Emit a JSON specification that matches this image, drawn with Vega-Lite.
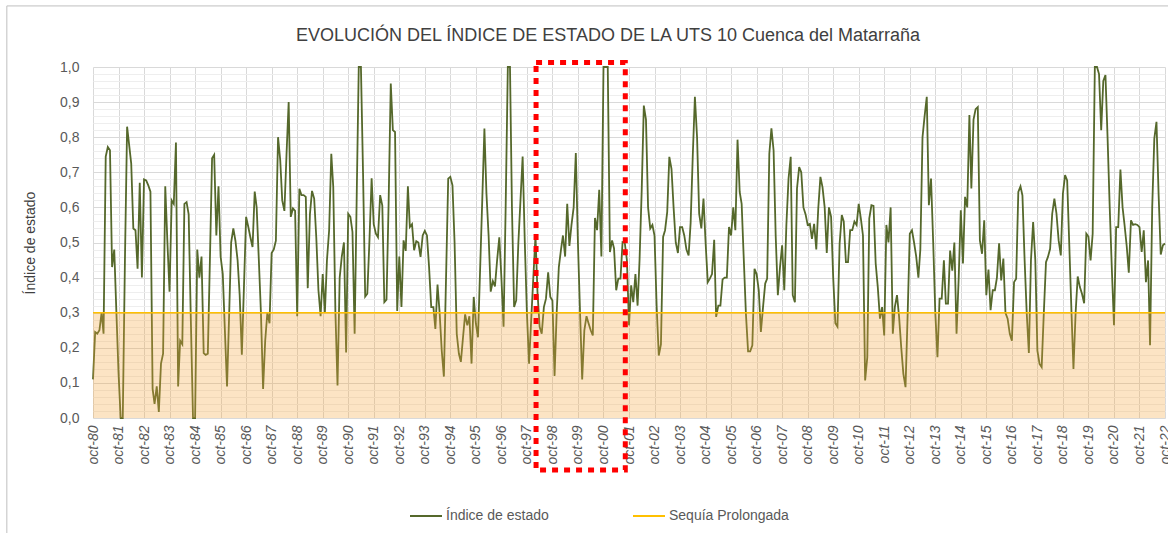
{
  "$schema": "https://vega.github.io/schema/vega-lite/v6.json",
  "width": 1072,
  "height": 351,
  "autosize": {"type": "none"},
  "padding": {"left": 93, "top": 67, "right": 3, "bottom": 115},
  "background": "#FFFFFF",
  "config": {"view": {"stroke": null}, "font": "Liberation Sans"},
  "title": {"text": "EVOLUCIÓN DEL ÍNDICE DE ESTADO DE LA UTS 10 Cuenca del Matarraña", "font": "Liberation Sans", "fontSize": 18, "fontWeight": "normal", "color": "#404040", "anchor": "middle", "dx": -21, "baseline": "alphabetic", "offset": 0, "dy": 54},
  "data": {"values": [
{"d":"1980-10","v":0.11},{"d":"1980-11","v":0.245},{"d":"1980-12","v":0.24},{"d":"1981-01","v":0.25},{"d":"1981-02","v":0.30},{"d":"1981-03","v":0.24},{"d":"1981-04","v":0.745},{"d":"1981-05","v":0.772},{"d":"1981-06","v":0.763},{"d":"1981-07","v":0.43},{"d":"1981-08","v":0.48},{"d":"1981-09","v":0.30},
{"d":"1981-10","v":0.13},{"d":"1981-11","v":0.0},{"d":"1981-12","v":0.0},{"d":"1982-01","v":0.45},{"d":"1982-02","v":0.83},{"d":"1982-03","v":0.78},{"d":"1982-04","v":0.725},{"d":"1982-05","v":0.54},{"d":"1982-06","v":0.535},{"d":"1982-07","v":0.425},{"d":"1982-08","v":0.67},{"d":"1982-09","v":0.40},
{"d":"1982-10","v":0.68},{"d":"1982-11","v":0.677},{"d":"1982-12","v":0.663},{"d":"1983-01","v":0.645},{"d":"1983-02","v":0.083},{"d":"1983-03","v":0.04},{"d":"1983-04","v":0.09},{"d":"1983-05","v":0.017},{"d":"1983-06","v":0.155},{"d":"1983-07","v":0.183},{"d":"1983-08","v":0.66},{"d":"1983-09","v":0.50},
{"d":"1983-10","v":0.36},{"d":"1983-11","v":0.62},{"d":"1983-12","v":0.61},{"d":"1984-01","v":0.785},{"d":"1984-02","v":0.09},{"d":"1984-03","v":0.22},{"d":"1984-04","v":0.21},{"d":"1984-05","v":0.61},{"d":"1984-06","v":0.615},{"d":"1984-07","v":0.58},{"d":"1984-08","v":0.28},{"d":"1984-09","v":0.0},
{"d":"1984-10","v":0.0},{"d":"1984-11","v":0.48},{"d":"1984-12","v":0.40},{"d":"1985-01","v":0.46},{"d":"1985-02","v":0.185},{"d":"1985-03","v":0.18},{"d":"1985-04","v":0.183},{"d":"1985-05","v":0.45},{"d":"1985-06","v":0.74},{"d":"1985-07","v":0.75},{"d":"1985-08","v":0.52},{"d":"1985-09","v":0.66},
{"d":"1985-10","v":0.46},{"d":"1985-11","v":0.41},{"d":"1985-12","v":0.25},{"d":"1986-01","v":0.09},{"d":"1986-02","v":0.30},{"d":"1986-03","v":0.50},{"d":"1986-04","v":0.54},{"d":"1986-05","v":0.505},{"d":"1986-06","v":0.45},{"d":"1986-07","v":0.35},{"d":"1986-08","v":0.18},{"d":"1986-09","v":0.38},
{"d":"1986-10","v":0.573},{"d":"1986-11","v":0.545},{"d":"1986-12","v":0.515},{"d":"1987-01","v":0.487},{"d":"1987-02","v":0.645},{"d":"1987-03","v":0.60},{"d":"1987-04","v":0.45},{"d":"1987-05","v":0.30},{"d":"1987-06","v":0.083},{"d":"1987-07","v":0.22},{"d":"1987-08","v":0.30},{"d":"1987-09","v":0.27},
{"d":"1987-10","v":0.47},{"d":"1987-11","v":0.48},{"d":"1987-12","v":0.505},{"d":"1988-01","v":0.80},{"d":"1988-02","v":0.735},{"d":"1988-03","v":0.62},{"d":"1988-04","v":0.59},{"d":"1988-05","v":0.75},{"d":"1988-06","v":0.90},{"d":"1988-07","v":0.573},{"d":"1988-08","v":0.597},{"d":"1988-09","v":0.59},
{"d":"1988-10","v":0.29},{"d":"1988-11","v":0.653},{"d":"1988-12","v":0.635},{"d":"1989-01","v":0.635},{"d":"1989-02","v":0.63},{"d":"1989-03","v":0.37},{"d":"1989-04","v":0.58},{"d":"1989-05","v":0.647},{"d":"1989-06","v":0.625},{"d":"1989-07","v":0.515},{"d":"1989-08","v":0.364},{"d":"1989-09","v":0.29},
{"d":"1989-10","v":0.41},{"d":"1989-11","v":0.30},{"d":"1989-12","v":0.45},{"d":"1990-01","v":0.535},{"d":"1990-02","v":0.753},{"d":"1990-03","v":0.658},{"d":"1990-04","v":0.30},{"d":"1990-05","v":0.093},{"d":"1990-06","v":0.40},{"d":"1990-07","v":0.46},{"d":"1990-08","v":0.50},{"d":"1990-09","v":0.187},
{"d":"1990-10","v":0.582},{"d":"1990-11","v":0.573},{"d":"1990-12","v":0.53},{"d":"1991-01","v":0.24},{"d":"1991-02","v":0.65},{"d":"1991-03","v":1.0},{"d":"1991-04","v":1.0},{"d":"1991-05","v":0.70},{"d":"1991-06","v":0.346},{"d":"1991-07","v":0.354},{"d":"1991-08","v":0.506},{"d":"1991-09","v":0.683},
{"d":"1991-10","v":0.552},{"d":"1991-11","v":0.525},{"d":"1991-12","v":0.515},{"d":"1992-01","v":0.635},{"d":"1992-02","v":0.605},{"d":"1992-03","v":0.33},{"d":"1992-04","v":0.337},{"d":"1992-05","v":0.61},{"d":"1992-06","v":0.953},{"d":"1992-07","v":0.82},{"d":"1992-08","v":0.815},{"d":"1992-09","v":0.305},
{"d":"1992-10","v":0.46},{"d":"1992-11","v":0.316},{"d":"1992-12","v":0.506},{"d":"1993-01","v":0.476},{"d":"1993-02","v":0.66},{"d":"1993-03","v":0.544},{"d":"1993-04","v":0.552},{"d":"1993-05","v":0.478},{"d":"1993-06","v":0.504},{"d":"1993-07","v":0.50},{"d":"1993-08","v":0.459},{"d":"1993-09","v":0.52},
{"d":"1993-10","v":0.533},{"d":"1993-11","v":0.52},{"d":"1993-12","v":0.43},{"d":"1994-01","v":0.316},{"d":"1994-02","v":0.316},{"d":"1994-03","v":0.254},{"d":"1994-04","v":0.38},{"d":"1994-05","v":0.30},{"d":"1994-06","v":0.19},{"d":"1994-07","v":0.118},{"d":"1994-08","v":0.40},{"d":"1994-09","v":0.682},
{"d":"1994-10","v":0.687},{"d":"1994-11","v":0.663},{"d":"1994-12","v":0.50},{"d":"1995-01","v":0.24},{"d":"1995-02","v":0.183},{"d":"1995-03","v":0.16},{"d":"1995-04","v":0.23},{"d":"1995-05","v":0.295},{"d":"1995-06","v":0.264},{"d":"1995-07","v":0.29},{"d":"1995-08","v":0.155},{"d":"1995-09","v":0.345},
{"d":"1995-10","v":0.27},{"d":"1995-11","v":0.23},{"d":"1995-12","v":0.42},{"d":"1996-01","v":0.62},{"d":"1996-02","v":0.825},{"d":"1996-03","v":0.64},{"d":"1996-04","v":0.52},{"d":"1996-05","v":0.36},{"d":"1996-06","v":0.39},{"d":"1996-07","v":0.375},{"d":"1996-08","v":0.45},{"d":"1996-09","v":0.515},
{"d":"1996-10","v":0.40},{"d":"1996-11","v":0.26},{"d":"1996-12","v":0.60},{"d":"1997-01","v":1.0},{"d":"1997-02","v":1.0},{"d":"1997-03","v":0.60},{"d":"1997-04","v":0.316},{"d":"1997-05","v":0.335},{"d":"1997-06","v":0.50},{"d":"1997-07","v":0.62},{"d":"1997-08","v":0.745},{"d":"1997-09","v":0.50},
{"d":"1997-10","v":0.30},{"d":"1997-11","v":0.155},{"d":"1997-12","v":0.278},{"d":"1998-01","v":0.40},{"d":"1998-02","v":0.52},{"d":"1998-03","v":0.36},{"d":"1998-04","v":0.26},{"d":"1998-05","v":0.24},{"d":"1998-06","v":0.316},{"d":"1998-07","v":0.34},{"d":"1998-08","v":0.415},{"d":"1998-09","v":0.345},
{"d":"1998-10","v":0.335},{"d":"1998-11","v":0.12},{"d":"1998-12","v":0.30},{"d":"1999-01","v":0.43},{"d":"1999-02","v":0.48},{"d":"1999-03","v":0.52},{"d":"1999-04","v":0.46},{"d":"1999-05","v":0.61},{"d":"1999-06","v":0.49},{"d":"1999-07","v":0.55},{"d":"1999-08","v":0.60},{"d":"1999-09","v":0.755},
{"d":"1999-10","v":0.50},{"d":"1999-11","v":0.297},{"d":"1999-12","v":0.11},{"d":"2000-01","v":0.25},{"d":"2000-02","v":0.29},{"d":"2000-03","v":0.27},{"d":"2000-04","v":0.25},{"d":"2000-05","v":0.235},{"d":"2000-06","v":0.57},{"d":"2000-07","v":0.535},{"d":"2000-08","v":0.65},{"d":"2000-09","v":0.46},
{"d":"2000-10","v":1.0},{"d":"2000-11","v":1.0},{"d":"2000-12","v":1.0},{"d":"2001-01","v":0.473},{"d":"2001-02","v":0.506},{"d":"2001-03","v":0.483},{"d":"2001-04","v":0.364},{"d":"2001-05","v":0.397},{"d":"2001-06","v":0.397},{"d":"2001-07","v":0.501},{"d":"2001-08","v":0.50},{"d":"2001-09","v":0.45},
{"d":"2001-10","v":0.264},{"d":"2001-11","v":0.378},{"d":"2001-12","v":0.33},{"d":"2002-01","v":0.41},{"d":"2002-02","v":0.32},{"d":"2002-03","v":0.45},{"d":"2002-04","v":0.65},{"d":"2002-05","v":0.89},{"d":"2002-06","v":0.85},{"d":"2002-07","v":0.60},{"d":"2002-08","v":0.54},{"d":"2002-09","v":0.55},
{"d":"2002-10","v":0.52},{"d":"2002-11","v":0.316},{"d":"2002-12","v":0.178},{"d":"2003-01","v":0.21},{"d":"2003-02","v":0.516},{"d":"2003-03","v":0.535},{"d":"2003-04","v":0.587},{"d":"2003-05","v":0.744},{"d":"2003-06","v":0.71},{"d":"2003-07","v":0.60},{"d":"2003-08","v":0.50},{"d":"2003-09","v":0.47},
{"d":"2003-10","v":0.544},{"d":"2003-11","v":0.544},{"d":"2003-12","v":0.52},{"d":"2004-01","v":0.48},{"d":"2004-02","v":0.463},{"d":"2004-03","v":0.556},{"d":"2004-04","v":0.75},{"d":"2004-05","v":0.915},{"d":"2004-06","v":0.80},{"d":"2004-07","v":0.582},{"d":"2004-08","v":0.54},{"d":"2004-09","v":0.625},
{"d":"2004-10","v":0.50},{"d":"2004-11","v":0.387},{"d":"2004-12","v":0.397},{"d":"2005-01","v":0.41},{"d":"2005-02","v":0.508},{"d":"2005-03","v":0.288},{"d":"2005-04","v":0.32},{"d":"2005-05","v":0.32},{"d":"2005-06","v":0.395},{"d":"2005-07","v":0.40},{"d":"2005-08","v":0.40},{"d":"2005-09","v":0.544},
{"d":"2005-10","v":0.52},{"d":"2005-11","v":0.60},{"d":"2005-12","v":0.535},{"d":"2006-01","v":0.793},{"d":"2006-02","v":0.644},{"d":"2006-03","v":0.61},{"d":"2006-04","v":0.45},{"d":"2006-05","v":0.297},{"d":"2006-06","v":0.19},{"d":"2006-07","v":0.19},{"d":"2006-08","v":0.207},{"d":"2006-09","v":0.425},
{"d":"2006-10","v":0.41},{"d":"2006-11","v":0.364},{"d":"2006-12","v":0.245},{"d":"2007-01","v":0.316},{"d":"2007-02","v":0.383},{"d":"2007-03","v":0.397},{"d":"2007-04","v":0.753},{"d":"2007-05","v":0.825},{"d":"2007-06","v":0.763},{"d":"2007-07","v":0.52},{"d":"2007-08","v":0.35},{"d":"2007-09","v":0.43},
{"d":"2007-10","v":0.492},{"d":"2007-11","v":0.364},{"d":"2007-12","v":0.55},{"d":"2008-01","v":0.682},{"d":"2008-02","v":0.744},{"d":"2008-03","v":0.35},{"d":"2008-04","v":0.33},{"d":"2008-05","v":0.654},{"d":"2008-06","v":0.715},{"d":"2008-07","v":0.70},{"d":"2008-08","v":0.60},{"d":"2008-09","v":0.58},
{"d":"2008-10","v":0.55},{"d":"2008-11","v":0.553},{"d":"2008-12","v":0.51},{"d":"2009-01","v":0.553},{"d":"2009-02","v":0.48},{"d":"2009-03","v":0.596},{"d":"2009-04","v":0.687},{"d":"2009-05","v":0.658},{"d":"2009-06","v":0.60},{"d":"2009-07","v":0.47},{"d":"2009-08","v":0.60},{"d":"2009-09","v":0.573},
{"d":"2009-10","v":0.40},{"d":"2009-11","v":0.27},{"d":"2009-12","v":0.26},{"d":"2010-01","v":0.497},{"d":"2010-02","v":0.578},{"d":"2010-03","v":0.56},{"d":"2010-04","v":0.444},{"d":"2010-05","v":0.444},{"d":"2010-06","v":0.535},{"d":"2010-07","v":0.535},{"d":"2010-08","v":0.56},{"d":"2010-09","v":0.55},
{"d":"2010-10","v":0.61},{"d":"2010-11","v":0.568},{"d":"2010-12","v":0.52},{"d":"2011-01","v":0.107},{"d":"2011-02","v":0.173},{"d":"2011-03","v":0.568},{"d":"2011-04","v":0.606},{"d":"2011-05","v":0.604},{"d":"2011-06","v":0.44},{"d":"2011-07","v":0.373},{"d":"2011-08","v":0.283},{"d":"2011-09","v":0.316},
{"d":"2011-10","v":0.235},{"d":"2011-11","v":0.55},{"d":"2011-12","v":0.50},{"d":"2012-01","v":0.60},{"d":"2012-02","v":0.24},{"d":"2012-03","v":0.316},{"d":"2012-04","v":0.35},{"d":"2012-05","v":0.288},{"d":"2012-06","v":0.20},{"d":"2012-07","v":0.126},{"d":"2012-08","v":0.088},{"d":"2012-09","v":0.30},
{"d":"2012-10","v":0.525},{"d":"2012-11","v":0.535},{"d":"2012-12","v":0.50},{"d":"2013-01","v":0.46},{"d":"2013-02","v":0.40},{"d":"2013-03","v":0.48},{"d":"2013-04","v":0.80},{"d":"2013-05","v":0.86},{"d":"2013-06","v":0.915},{"d":"2013-07","v":0.606},{"d":"2013-08","v":0.682},{"d":"2013-09","v":0.50},
{"d":"2013-10","v":0.30},{"d":"2013-11","v":0.173},{"d":"2013-12","v":0.34},{"d":"2014-01","v":0.34},{"d":"2014-02","v":0.449},{"d":"2014-03","v":0.326},{"d":"2014-04","v":0.326},{"d":"2014-05","v":0.477},{"d":"2014-06","v":0.42},{"d":"2014-07","v":0.50},{"d":"2014-08","v":0.24},{"d":"2014-09","v":0.40},
{"d":"2014-10","v":0.592},{"d":"2014-11","v":0.44},{"d":"2014-12","v":0.63},{"d":"2015-01","v":0.60},{"d":"2015-02","v":0.863},{"d":"2015-03","v":0.654},{"d":"2015-04","v":0.85},{"d":"2015-05","v":0.88},{"d":"2015-06","v":0.886},{"d":"2015-07","v":0.506},{"d":"2015-08","v":0.468},{"d":"2015-09","v":0.563},
{"d":"2015-10","v":0.35},{"d":"2015-11","v":0.423},{"d":"2015-12","v":0.307},{"d":"2016-01","v":0.364},{"d":"2016-02","v":0.364},{"d":"2016-03","v":0.40},{"d":"2016-04","v":0.498},{"d":"2016-05","v":0.392},{"d":"2016-06","v":0.454},{"d":"2016-07","v":0.30},{"d":"2016-08","v":0.283},{"d":"2016-09","v":0.24},
{"d":"2016-10","v":0.22},{"d":"2016-11","v":0.387},{"d":"2016-12","v":0.397},{"d":"2017-01","v":0.644},{"d":"2017-02","v":0.66},{"d":"2017-03","v":0.634},{"d":"2017-04","v":0.45},{"d":"2017-05","v":0.30},{"d":"2017-06","v":0.185},{"d":"2017-07","v":0.45},{"d":"2017-08","v":0.558},{"d":"2017-09","v":0.45},
{"d":"2017-10","v":0.192},{"d":"2017-11","v":0.154},{"d":"2017-12","v":0.145},{"d":"2018-01","v":0.30},{"d":"2018-02","v":0.444},{"d":"2018-03","v":0.459},{"d":"2018-04","v":0.482},{"d":"2018-05","v":0.582},{"d":"2018-06","v":0.625},{"d":"2018-07","v":0.582},{"d":"2018-08","v":0.506},{"d":"2018-09","v":0.463},
{"d":"2018-10","v":0.639},{"d":"2018-11","v":0.692},{"d":"2018-12","v":0.677},{"d":"2019-01","v":0.49},{"d":"2019-02","v":0.30},{"d":"2019-03","v":0.14},{"d":"2019-04","v":0.30},{"d":"2019-05","v":0.403},{"d":"2019-06","v":0.373},{"d":"2019-07","v":0.354},{"d":"2019-08","v":0.327},{"d":"2019-09","v":0.525},
{"d":"2019-10","v":0.517},{"d":"2019-11","v":0.449},{"d":"2019-12","v":0.525},{"d":"2020-01","v":1.0},{"d":"2020-02","v":1.0},{"d":"2020-03","v":0.98},{"d":"2020-04","v":0.82},{"d":"2020-05","v":0.96},{"d":"2020-06","v":0.977},{"d":"2020-07","v":0.80},{"d":"2020-08","v":0.60},{"d":"2020-09","v":0.42},
{"d":"2020-10","v":0.264},{"d":"2020-11","v":0.544},{"d":"2020-12","v":0.544},{"d":"2021-01","v":0.708},{"d":"2021-02","v":0.60},{"d":"2021-03","v":0.55},{"d":"2021-04","v":0.49},{"d":"2021-05","v":0.414},{"d":"2021-06","v":0.563},{"d":"2021-07","v":0.55},{"d":"2021-08","v":0.552},{"d":"2021-09","v":0.55},
{"d":"2021-10","v":0.544},{"d":"2021-11","v":0.473},{"d":"2021-12","v":0.535},{"d":"2022-01","v":0.387},{"d":"2022-02","v":0.449},{"d":"2022-03","v":0.207},{"d":"2022-04","v":0.60},{"d":"2022-05","v":0.796},{"d":"2022-06","v":0.844},{"d":"2022-07","v":0.64},{"d":"2022-08","v":0.466},{"d":"2022-09","v":0.492},
{"d":"2022-10","v":0.497}
  ]},
  "layer": [
    {
      "data": {"values": [{}]},
      "mark": {"type": "rect", "fill": "transparent", "stroke": "#BFBFBF", "strokeWidth": 1},
      "encoding": {
        "x": {"datum": {"year": 1977, "month": 5, "date": 17, "utc": true}, "type": "temporal"},
        "x2": {"datum": {"year": 2023, "month": 6, "date": 1, "utc": true}},
        "y": {"datum": 1.174, "type": "quantitative"},
        "y2": {"datum": -0.5}
      }
    },
    {
      "mark": {"type": "line", "strokeWidth": 1.8, "interpolate": "linear"},
      "encoding": {
        "x": {
          "field": "d", "type": "temporal",
          "scale": {"type": "utc", "domain": [{"year": 1980, "month": 10, "date": 1, "utc": true}, {"year": 2022, "month": 10, "date": 1, "utc": true}]},
          "axis": {
            "values": [
              {"year":1980,"month":10,"date":1,"utc":true},{"year":1981,"month":10,"date":1,"utc":true},{"year":1982,"month":10,"date":1,"utc":true},{"year":1983,"month":10,"date":1,"utc":true},{"year":1984,"month":10,"date":1,"utc":true},{"year":1985,"month":10,"date":1,"utc":true},{"year":1986,"month":10,"date":1,"utc":true},{"year":1987,"month":10,"date":1,"utc":true},{"year":1988,"month":10,"date":1,"utc":true},{"year":1989,"month":10,"date":1,"utc":true},
              {"year":1990,"month":10,"date":1,"utc":true},{"year":1991,"month":10,"date":1,"utc":true},{"year":1992,"month":10,"date":1,"utc":true},{"year":1993,"month":10,"date":1,"utc":true},{"year":1994,"month":10,"date":1,"utc":true},{"year":1995,"month":10,"date":1,"utc":true},{"year":1996,"month":10,"date":1,"utc":true},{"year":1997,"month":10,"date":1,"utc":true},{"year":1998,"month":10,"date":1,"utc":true},{"year":1999,"month":10,"date":1,"utc":true},
              {"year":2000,"month":10,"date":1,"utc":true},{"year":2001,"month":10,"date":1,"utc":true},{"year":2002,"month":10,"date":1,"utc":true},{"year":2003,"month":10,"date":1,"utc":true},{"year":2004,"month":10,"date":1,"utc":true},{"year":2005,"month":10,"date":1,"utc":true},{"year":2006,"month":10,"date":1,"utc":true},{"year":2007,"month":10,"date":1,"utc":true},{"year":2008,"month":10,"date":1,"utc":true},{"year":2009,"month":10,"date":1,"utc":true},
              {"year":2010,"month":10,"date":1,"utc":true},{"year":2011,"month":10,"date":1,"utc":true},{"year":2012,"month":10,"date":1,"utc":true},{"year":2013,"month":10,"date":1,"utc":true},{"year":2014,"month":10,"date":1,"utc":true},{"year":2015,"month":10,"date":1,"utc":true},{"year":2016,"month":10,"date":1,"utc":true},{"year":2017,"month":10,"date":1,"utc":true},{"year":2018,"month":10,"date":1,"utc":true},{"year":2019,"month":10,"date":1,"utc":true},
              {"year":2020,"month":10,"date":1,"utc":true},{"year":2021,"month":10,"date":1,"utc":true},{"year":2022,"month":10,"date":1,"utc":true}
            ],
            "tickCount": 200,
            "labelExpr": "'oct-' + utcFormat(datum.value, '%y')",
            "labelAngle": 270, "labelAlign": "right", "labelBaseline": "middle",
            "labelFont": "Liberation Sans", "labelFontSize": 14, "labelFontStyle": "italic", "labelColor": "#595959", "labelPadding": 7,
            "labelOverlap": false, "labelBound": false, "labelFlush": false,
            "ticks": false, "domain": false, "grid": true, "gridColor": "#D9D9D9", "gridWidth": 1, "title": null
          }
        },
        "y": {
          "field": "v", "type": "quantitative",
          "scale": {"domain": [0, 1], "nice": false, "zero": false},
          "axis": {
            "values": [0,0.02,0.04,0.06,0.08,0.1,0.12,0.14,0.16,0.18,0.2,0.22,0.24,0.26,0.28,0.3,0.32,0.34,0.36,0.38,0.4,0.42,0.44,0.46,0.48,0.5,0.52,0.54,0.56,0.58,0.6,0.62,0.64,0.66,0.68,0.7,0.72,0.74,0.76,0.78,0.8,0.82,0.84,0.86,0.88,0.9,0.92,0.94,0.96,0.98,1],
            "tickCount": 200,
            "labelExpr": "abs(datum.value*10 - round(datum.value*10)) < 0.001 ? replace(format(datum.value, '.1f'), '.', ',') : ''",
            "labelFont": "Liberation Sans", "labelFontSize": 14, "labelColor": "#595959", "labelPadding": 14,
            "labelOverlap": false,
            "ticks": false, "domain": false, "grid": true,
            "gridColor": {"condition": {"test": "abs(datum.value*10 - round(datum.value*10)) < 0.001", "value": "#D9D9D9"}, "value": "#EEEEEE"},
            "gridWidth": 1,
            "title": "Índice de estado", "titleFont": "Liberation Sans", "titleFontSize": 14, "titleFontWeight": "normal", "titleColor": "#404040", "titlePadding": 22
          }
        },
        "color": {
          "datum": "Índice de estado", "type": "nominal",
          "scale": {"domain": ["Índice de estado", "Sequía Prolongada"], "range": ["#55682B", "#FFC000"]},
          "legend": {
            "orient": "none", "legendX": 316, "legendY": 432, "direction": "horizontal", "title": null,
            "symbolType": "stroke", "symbolSize": 1024, "symbolStrokeWidth": 2,
            "labelFont": "Liberation Sans", "labelFontSize": 14, "labelColor": "#595959", "labelOffset": 3,
            "columnPadding": 80
          }
        }
      }
    },
    {
      "data": {"values": [{}]},
      "mark": {"type": "rect", "color": "#F5A53A", "opacity": 0.3},
      "encoding": {
        "x": {"datum": {"year": 1980, "month": 10, "date": 1, "utc": true}, "type": "temporal"},
        "x2": {"datum": {"year": 2022, "month": 10, "date": 1, "utc": true}},
        "y": {"datum": 0, "type": "quantitative"},
        "y2": {"datum": 0.3}
      }
    },
    {
      "data": {"values": [{}]},
      "mark": {"type": "rule", "strokeWidth": 1.5},
      "encoding": {
        "y": {"datum": 0.3, "type": "quantitative"},
        "color": {"datum": "Sequía Prolongada", "type": "nominal"}
      }
    },
    {
      "data": {"values": [{}]},
      "mark": {"type": "rect", "fill": "transparent", "stroke": "#FF0000", "strokeWidth": 5, "strokeDash": [6, 6]},
      "encoding": {
        "x": {"datum": {"year": 1998, "month": 2, "date": 9, "utc": true}, "type": "temporal"},
        "x2": {"datum": {"year": 2001, "month": 8, "date": 9, "utc": true}},
        "y": {"datum": 1.013, "type": "quantitative"},
        "y2": {"datum": -0.148}
      }
    }
  ]
}
